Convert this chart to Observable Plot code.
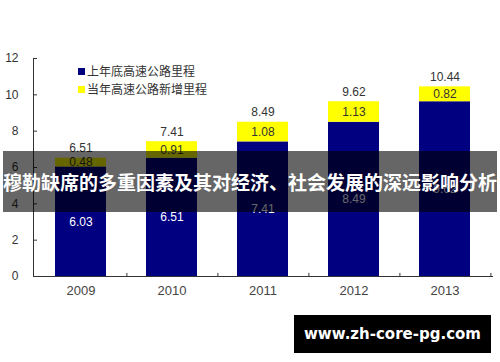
<!DOCTYPE html>
<html>
<head>
<meta charset="utf-8">
<script src="https://cdn.jsdelivr.net/npm/d3@7"></script>
<script src="https://cdn.jsdelivr.net/npm/@observablehq/plot@0.6"></script>
<style>
  html, body { margin: 0; padding: 0; background: #fff; }
  #wrap { position: relative; width: 500px; height: 362px; overflow: hidden; font-family: "Liberation Sans", Arial, sans-serif; }
  #legend { position: absolute; left: 78px; top: 62px; font-family: "Noto Sans CJK SC", sans-serif; font-size: 12px; color: #333; line-height: 18px; }
  #legend .row { display: flex; align-items: center; white-space: nowrap; }
  #legend .sw { display: inline-block; width: 7px; height: 7px; margin-right: 2px; }
  #banner { position: absolute; left: 3px; top: 151px; width: 494px; height: 61px; background: rgba(0,0,0,0.6);
            color: #fff; font-family: "Noto Sans CJK SC", sans-serif; font-weight: bold; font-size: 19px;
            display: flex; align-items: center; justify-content: center; white-space: nowrap; }
  #wm { position: absolute; left: 294px; top: 315px; width: 197px; height: 38px; background: #000; color: #fff;
        font-family: "DejaVu Sans", sans-serif; font-weight: bold; font-size: 15px;
        display: flex; align-items: center; justify-content: center; white-space: nowrap; }
</style>
</head>
<body>
<div id="wrap">
  <div id="chart"></div>
  <div id="legend"></div>
  <div id="banner"></div>
  <div id="wm"></div>
</div>
<script>
const years = ["2009", "2010", "2011", "2012", "2013"];
const baseValues = [6.03, 6.51, 7.41, 8.49, 9.62];
const addedValues = [0.48, 0.91, 1.08, 1.13, 0.82];
const totalValues = [6.51, 7.41, 8.49, 9.62, 10.44];
const seriesNames = ["上年底高速公路里程", "当年高速公路新增里程"];
const seriesColors = ["#000080", "#ffff00"];
const yTicks = [0, 2, 4, 6, 8, 10, 12];
const titleText = "穆勒缺席的多重因素及其对经济、社会发展的深远影响分析";
const watermarkText = "www.zh-core-pg.com";

const rows = [];
years.forEach((yr, i) => {
  rows.push({year: yr, series: seriesNames[0], value: baseValues[i]});
  rows.push({year: yr, series: seriesNames[1], value: addedValues[i]});
});
const totals = years.map((yr, i) => ({year: yr, total: totalValues[i]}));

const W = 500, H = 362, mL = 33, mR = 8;
const step = (W - mL - mR) / years.length;

const chart = Plot.plot({
  width: W, height: H,
  marginLeft: mL, marginRight: mR, marginTop: 58, marginBottom: 86,
  style: {fontFamily: "'Liberation Sans', Arial, sans-serif", color: "#333", background: "#fff"},
  x: {domain: years, paddingInner: 0.445, paddingOuter: 0.2225, label: null},
  y: {domain: [0, 12], label: null},
  color: {domain: seriesNames, range: seriesColors},
  marks: [
    Plot.barY(rows, {x: "year", y: "value", fill: "series"}),
    Plot.frame({anchor: "left", stroke: "#333"}),
    Plot.frame({anchor: "bottom", stroke: "#333"}),
    Plot.axisY({ticks: yTicks, tickSize: -4, tickPadding: 19, stroke: "#333", fontSize: 12, fill: "#333", label: null}),
    Plot.axisX({tickSize: 0, tickPadding: 9, fontSize: 13, fill: "#444", label: null}),
    Plot.ruleX(years, {x: d => d, dx: step / 2, y1: 0, y2: 0.17, stroke: "#333"}),
    Plot.text(rows, Plot.stackY({x: "year", y: "value", text: d => d.value.toFixed(2),
      fill: d => d.series === seriesNames[0] ? "#fff" : "#333", fontSize: 12})),
    Plot.text(totals, {x: "year", y: "total", text: d => d.total.toFixed(2), dy: -10, fill: "#333", fontSize: 12})
  ]
});
document.getElementById("chart").appendChild(chart);

const legend = document.getElementById("legend");
seriesNames.forEach((name, i) => {
  const row = document.createElement("div");
  row.className = "row";
  const sw = document.createElement("span");
  sw.className = "sw";
  sw.style.background = seriesColors[i];
  row.appendChild(sw);
  row.appendChild(document.createTextNode(name));
  legend.appendChild(row);
});
document.getElementById("banner").textContent = titleText;
document.getElementById("wm").textContent = watermarkText;
</script>
</body>
</html>
